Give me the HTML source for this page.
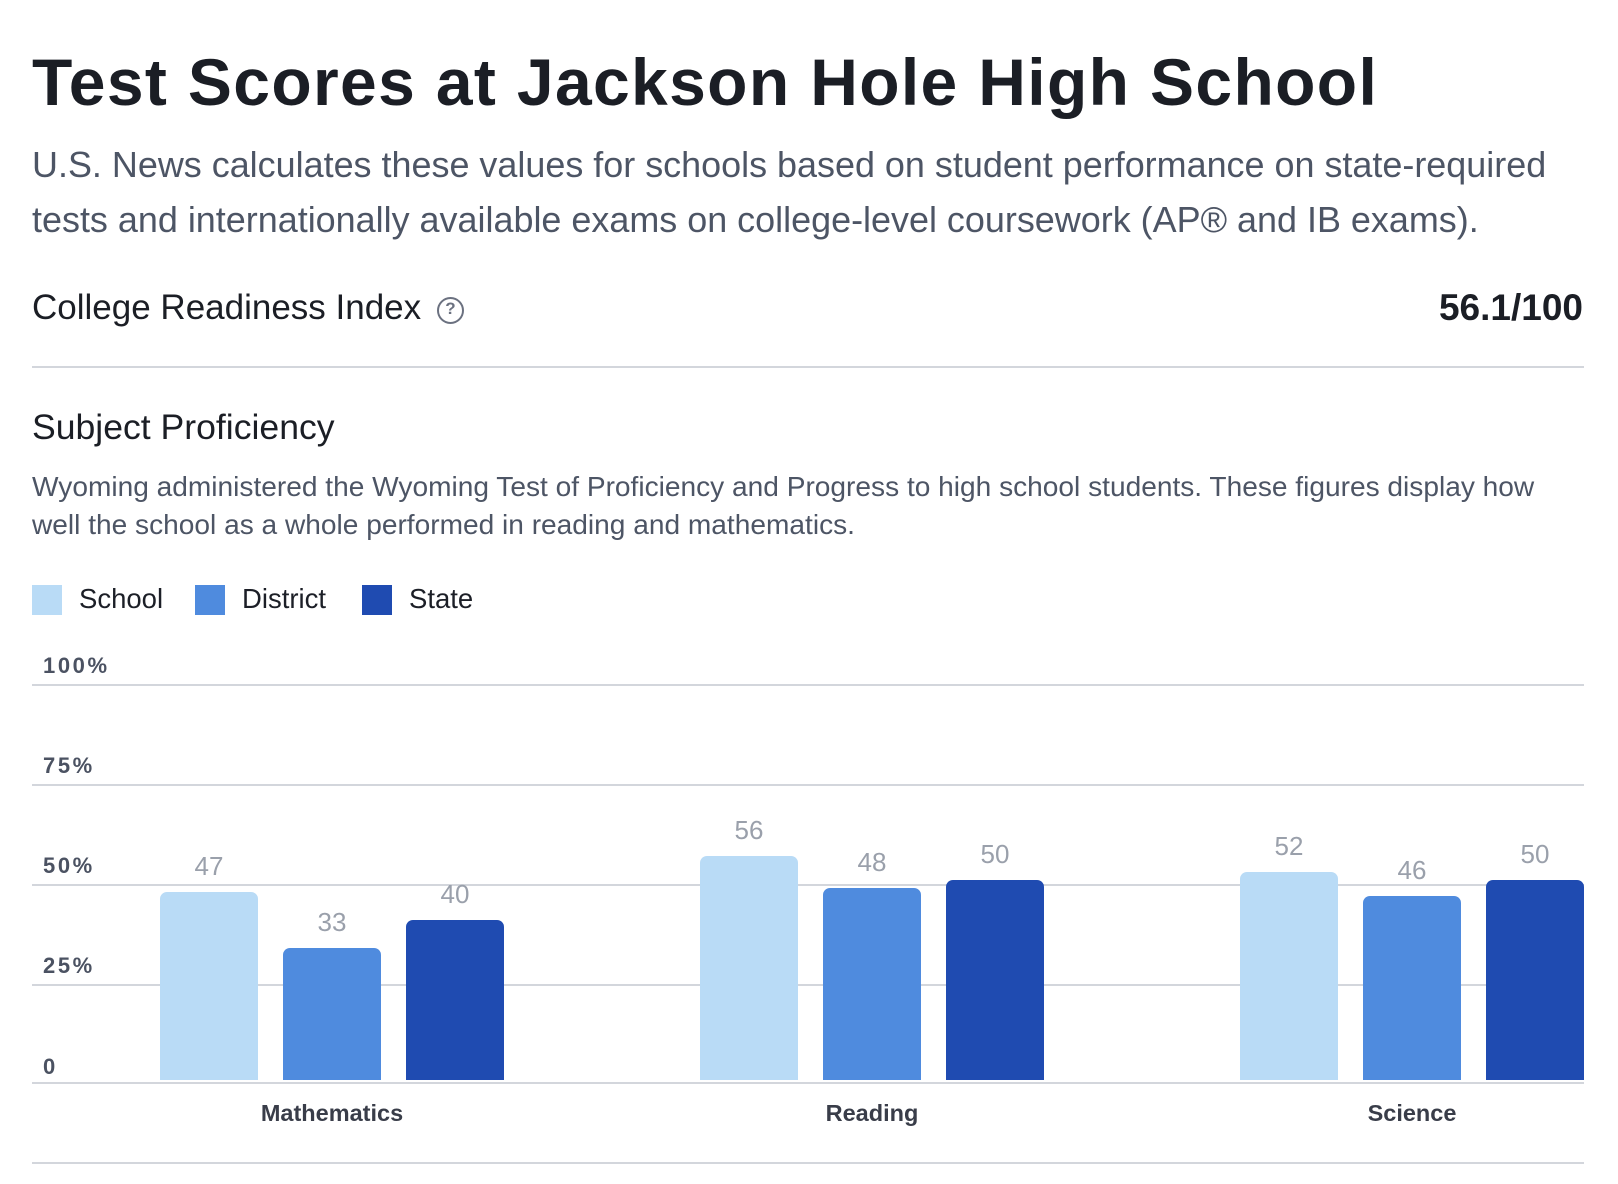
<!DOCTYPE html>
<html>
<head>
<meta charset="utf-8">
<style>
  html, body { margin:0; padding:0; background:#ffffff; }
  body { width:1618px; height:1184px; position:relative; overflow:hidden;
         font-family:"Liberation Sans", Arial, sans-serif; }
  .t { position:absolute; white-space:nowrap; }
  .line { position:absolute; left:32px; width:1552px; height:2px; background:#d3d6dc; }
  .bar { position:absolute; width:98px; border-radius:7px 7px 0 0; }
  .s { background:#b9dbf6; }
  .d { background:#4f8bde; }
  .st { background:#1f4bb1; }
  .val { position:absolute; width:98px; text-align:center; font-size:26px; line-height:26px; color:#9aa0ab; }
  .tick { position:absolute; left:43px; font-size:22px; line-height:22px; font-weight:bold; letter-spacing:2.6px; color:#4b5262; }
  .cat { position:absolute; width:344px; text-align:center; font-size:23.5px; line-height:23.5px; font-weight:bold; color:#393d49; }
  .sw { position:absolute; top:585px; width:30px; height:30px; }
  .leg { position:absolute; top:584.7px; font-size:27.5px; line-height:27.5px; color:#1c1f27; }
</style>
</head>
<body>

<div class="t" style="left:32px; top:49px; font-size:66px; line-height:66px; font-weight:bold; letter-spacing:1.35px; color:#1b1e25;">Test Scores at Jackson Hole High School</div>

<div class="t" style="left:32px; top:137px; font-size:35.95px; line-height:55px; color:#4d5565;">U.S. News calculates these values for schools based on student performance on state-required<br>tests and internationally available exams on college-level coursework (AP® and IB exams).</div>

<div class="t" style="left:32px; top:290.4px; font-size:35px; line-height:35px; color:#1b1e25;">College Readiness Index</div>
<div style="position:absolute; left:437px; top:296.5px; width:23px; height:23px; border:2px solid #6b7180; border-radius:50%;"></div>
<div class="t" style="left:437px; top:299px; width:27px; text-align:center; font-size:17px; line-height:20px; font-weight:bold; color:#6b7180;">?</div>

<div class="t" style="right:35px; top:289.2px; font-size:37px; line-height:37px; font-weight:bold; color:#1b1e25;">56.1/100</div>

<div class="line" style="top:366px;"></div>

<div class="t" style="left:32px; top:409.9px; font-size:35.6px; line-height:35.6px; color:#1b1e25;">Subject Proficiency</div>

<div class="t" style="left:32px; top:468.2px; font-size:28.1px; line-height:38px; color:#4d5565;">Wyoming administered the Wyoming Test of Proficiency and Progress to high school students. These figures display how<br>well the school as a whole performed in reading and mathematics.</div>

<!-- legend -->
<div class="sw s" style="left:32px;"></div>
<div class="leg" style="left:79px;">School</div>
<div class="sw d" style="left:195px;"></div>
<div class="leg" style="left:242px;">District</div>
<div class="sw st" style="left:362px;"></div>
<div class="leg" style="left:409px;">State</div>

<!-- gridlines -->
<div class="line" style="top:684px;"></div>
<div class="line" style="top:784px;"></div>
<div class="line" style="top:884px;"></div>
<div class="line" style="top:984px;"></div>
<div class="line" style="top:1082px;"></div>
<div class="line" style="top:1162px;"></div>

<!-- tick labels -->
<div class="tick" style="top:655.4px;">100%</div>
<div class="tick" style="top:755px;">75%</div>
<div class="tick" style="top:855.3px;">50%</div>
<div class="tick" style="top:955.2px;">25%</div>
<div class="tick" style="top:1055.5px;">0</div>

<!-- Mathematics -->
<div class="bar s"  style="left:160px; top:892px; height:188px;"></div>
<div class="bar d"  style="left:283px; top:948px; height:132px;"></div>
<div class="bar st" style="left:406px; top:920px; height:160px;"></div>
<div class="val" style="left:160px; top:853.3px;">47</div>
<div class="val" style="left:283px; top:909.3px;">33</div>
<div class="val" style="left:406px; top:881.3px;">40</div>
<div class="cat" style="left:160px; top:1102.1px;">Mathematics</div>

<!-- Reading -->
<div class="bar s"  style="left:700px; top:856px; height:224px;"></div>
<div class="bar d"  style="left:823px; top:888px; height:192px;"></div>
<div class="bar st" style="left:946px; top:880px; height:200px;"></div>
<div class="val" style="left:700px; top:817.3px;">56</div>
<div class="val" style="left:823px; top:849.3px;">48</div>
<div class="val" style="left:946px; top:841.3px;">50</div>
<div class="cat" style="left:700px; top:1102.1px;">Reading</div>

<!-- Science -->
<div class="bar s"  style="left:1240px; top:872px; height:208px;"></div>
<div class="bar d"  style="left:1363px; top:896px; height:184px;"></div>
<div class="bar st" style="left:1486px; top:880px; height:200px;"></div>
<div class="val" style="left:1240px; top:833.3px;">52</div>
<div class="val" style="left:1363px; top:857.3px;">46</div>
<div class="val" style="left:1486px; top:841.3px;">50</div>
<div class="cat" style="left:1240px; top:1102.1px;">Science</div>

</body>
</html>
